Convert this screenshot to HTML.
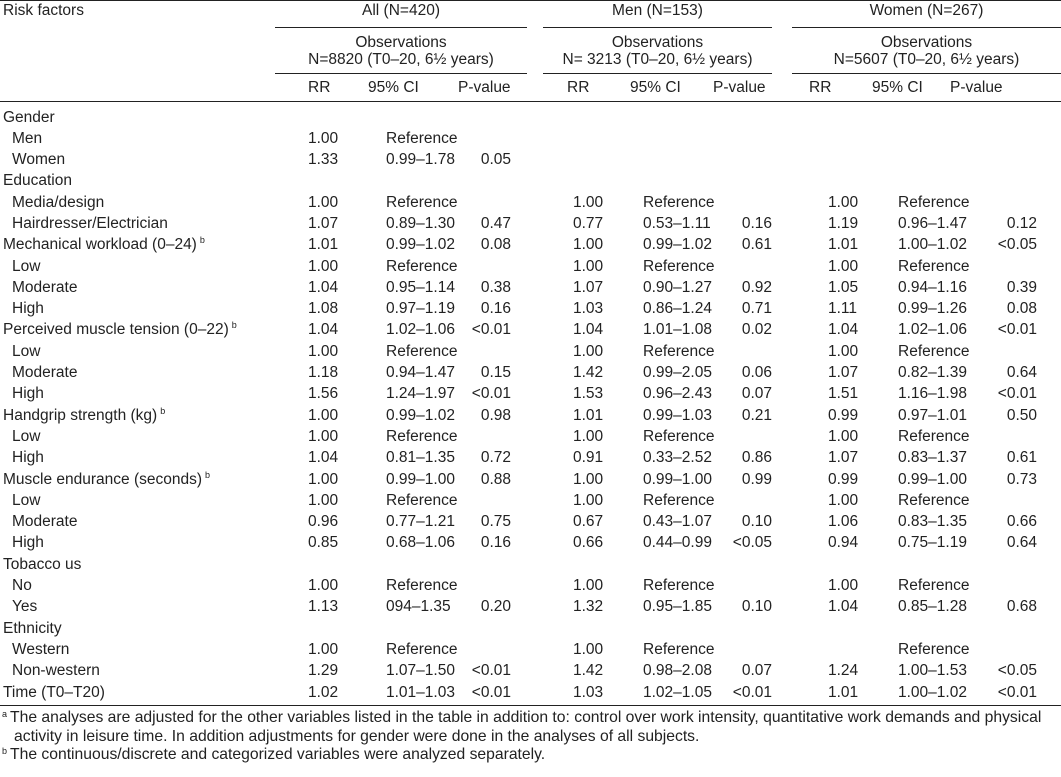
<!DOCTYPE html>
<html><head><meta charset="utf-8"><style>
*{margin:0;padding:0;box-sizing:border-box}
body{width:1061px;height:777px;background:#fff;color:#222;font-family:"Liberation Sans",Arial,sans-serif;font-size:15.5px;position:relative;overflow:hidden}
.ab{position:absolute;white-space:nowrap}
.ln{position:absolute;height:1.3px;background:#222}
.rows{position:absolute;top:106.5px;left:0;width:1061px}
.r{position:relative;height:21.3px;line-height:21.3px;white-space:nowrap}
.r span{position:absolute;top:0}
.l{left:3px}.i{left:12px}
.a1{left:308px}.a2{left:386px}.a3{right:550px}
.m1{left:573px}.m2{left:643px}.m3{right:289px}
.w1{left:828px}.w2{left:898px}.w3{right:24px}
sup{font-size:9px;line-height:0;position:relative;top:-6px;vertical-align:baseline;margin-left:3px}
.c{text-align:center;line-height:17px}
.fn{position:absolute;left:2px;font-size:15.7px;white-space:nowrap;line-height:18.5px}
.fn sup{margin:0 3px 0 0;top:-5px}
</style></head><body>
<div class="ln" style="top:0;left:0;width:1061px"></div>
<div class="ab" style="left:3px;top:1px;line-height:19px">Risk factors</div>
<div class="ab c" style="left:275px;width:252px;top:2px">All (N=420)</div>
<div class="ab c" style="left:543px;width:229px;top:2px">Men (N=153)</div>
<div class="ab c" style="left:792px;width:269px;top:2px">Women (N=267)</div>
<div class="ln" style="top:26.5px;left:275px;width:252px"></div>
<div class="ln" style="top:26.5px;left:543px;width:229px"></div>
<div class="ln" style="top:26.5px;left:792px;width:269px"></div>
<div class="ab c" style="left:275px;width:252px;top:34px">Observations<br>N=8820 (T0–20, 6½ years)</div>
<div class="ab c" style="left:543px;width:229px;top:34px">Observations<br>N= 3213 (T0–20, 6½ years)</div>
<div class="ab c" style="left:792px;width:269px;top:34px">Observations<br>N=5607 (T0–20, 6½ years)</div>
<div class="ln" style="top:72.5px;left:275px;width:252px"></div>
<div class="ln" style="top:72.5px;left:543px;width:229px"></div>
<div class="ln" style="top:72.5px;left:792px;width:269px"></div>
<div class="ab" style="top:79px;left:308px">RR</div><div class="ab" style="top:79px;left:368px">95% CI</div><div class="ab" style="top:79px;left:458px">P-value</div>
<div class="ab" style="top:79px;left:567px">RR</div><div class="ab" style="top:79px;left:630px">95% CI</div><div class="ab" style="top:79px;left:713px">P-value</div>
<div class="ab" style="top:79px;left:809px">RR</div><div class="ab" style="top:79px;left:872px">95% CI</div><div class="ab" style="top:79px;left:950px">P-value</div>
<div class="ln" style="top:100.5px;left:0;width:1061px"></div>
<div class="rows">
<div class="r"><span class="l">Gender</span></div>
<div class="r"><span class="i">Men</span><span class="a1">1.00</span><span class="a2">Reference</span></div>
<div class="r"><span class="i">Women</span><span class="a1">1.33</span><span class="a2">0.99–1.78</span><span class="a3">0.05</span></div>
<div class="r"><span class="l">Education</span></div>
<div class="r"><span class="i">Media/design</span><span class="a1">1.00</span><span class="a2">Reference</span><span class="m1">1.00</span><span class="m2">Reference</span><span class="w1">1.00</span><span class="w2">Reference</span></div>
<div class="r"><span class="i">Hairdresser/Electrician</span><span class="a1">1.07</span><span class="a2">0.89–1.30</span><span class="a3">0.47</span><span class="m1">0.77</span><span class="m2">0.53–1.11</span><span class="m3">0.16</span><span class="w1">1.19</span><span class="w2">0.96–1.47</span><span class="w3">0.12</span></div>
<div class="r"><span class="l">Mechanical workload (0–24)<sup>b</sup></span><span class="a1">1.01</span><span class="a2">0.99–1.02</span><span class="a3">0.08</span><span class="m1">1.00</span><span class="m2">0.99–1.02</span><span class="m3">0.61</span><span class="w1">1.01</span><span class="w2">1.00–1.02</span><span class="w3">&lt;0.05</span></div>
<div class="r"><span class="i">Low</span><span class="a1">1.00</span><span class="a2">Reference</span><span class="m1">1.00</span><span class="m2">Reference</span><span class="w1">1.00</span><span class="w2">Reference</span></div>
<div class="r"><span class="i">Moderate</span><span class="a1">1.04</span><span class="a2">0.95–1.14</span><span class="a3">0.38</span><span class="m1">1.07</span><span class="m2">0.90–1.27</span><span class="m3">0.92</span><span class="w1">1.05</span><span class="w2">0.94–1.16</span><span class="w3">0.39</span></div>
<div class="r"><span class="i">High</span><span class="a1">1.08</span><span class="a2">0.97–1.19</span><span class="a3">0.16</span><span class="m1">1.03</span><span class="m2">0.86–1.24</span><span class="m3">0.71</span><span class="w1">1.11</span><span class="w2">0.99–1.26</span><span class="w3">0.08</span></div>
<div class="r"><span class="l">Perceived muscle tension (0–22)<sup>b</sup></span><span class="a1">1.04</span><span class="a2">1.02–1.06</span><span class="a3">&lt;0.01</span><span class="m1">1.04</span><span class="m2">1.01–1.08</span><span class="m3">0.02</span><span class="w1">1.04</span><span class="w2">1.02–1.06</span><span class="w3">&lt;0.01</span></div>
<div class="r"><span class="i">Low</span><span class="a1">1.00</span><span class="a2">Reference</span><span class="m1">1.00</span><span class="m2">Reference</span><span class="w1">1.00</span><span class="w2">Reference</span></div>
<div class="r"><span class="i">Moderate</span><span class="a1">1.18</span><span class="a2">0.94–1.47</span><span class="a3">0.15</span><span class="m1">1.42</span><span class="m2">0.99–2.05</span><span class="m3">0.06</span><span class="w1">1.07</span><span class="w2">0.82–1.39</span><span class="w3">0.64</span></div>
<div class="r"><span class="i">High</span><span class="a1">1.56</span><span class="a2">1.24–1.97</span><span class="a3">&lt;0.01</span><span class="m1">1.53</span><span class="m2">0.96–2.43</span><span class="m3">0.07</span><span class="w1">1.51</span><span class="w2">1.16–1.98</span><span class="w3">&lt;0.01</span></div>
<div class="r"><span class="l">Handgrip strength (kg)<sup>b</sup></span><span class="a1">1.00</span><span class="a2">0.99–1.02</span><span class="a3">0.98</span><span class="m1">1.01</span><span class="m2">0.99–1.03</span><span class="m3">0.21</span><span class="w1">0.99</span><span class="w2">0.97–1.01</span><span class="w3">0.50</span></div>
<div class="r"><span class="i">Low</span><span class="a1">1.00</span><span class="a2">Reference</span><span class="m1">1.00</span><span class="m2">Reference</span><span class="w1">1.00</span><span class="w2">Reference</span></div>
<div class="r"><span class="i">High</span><span class="a1">1.04</span><span class="a2">0.81–1.35</span><span class="a3">0.72</span><span class="m1">0.91</span><span class="m2">0.33–2.52</span><span class="m3">0.86</span><span class="w1">1.07</span><span class="w2">0.83–1.37</span><span class="w3">0.61</span></div>
<div class="r"><span class="l">Muscle endurance (seconds)<sup>b</sup></span><span class="a1">1.00</span><span class="a2">0.99–1.00</span><span class="a3">0.88</span><span class="m1">1.00</span><span class="m2">0.99–1.00</span><span class="m3">0.99</span><span class="w1">0.99</span><span class="w2">0.99–1.00</span><span class="w3">0.73</span></div>
<div class="r"><span class="i">Low</span><span class="a1">1.00</span><span class="a2">Reference</span><span class="m1">1.00</span><span class="m2">Reference</span><span class="w1">1.00</span><span class="w2">Reference</span></div>
<div class="r"><span class="i">Moderate</span><span class="a1">0.96</span><span class="a2">0.77–1.21</span><span class="a3">0.75</span><span class="m1">0.67</span><span class="m2">0.43–1.07</span><span class="m3">0.10</span><span class="w1">1.06</span><span class="w2">0.83–1.35</span><span class="w3">0.66</span></div>
<div class="r"><span class="i">High</span><span class="a1">0.85</span><span class="a2">0.68–1.06</span><span class="a3">0.16</span><span class="m1">0.66</span><span class="m2">0.44–0.99</span><span class="m3">&lt;0.05</span><span class="w1">0.94</span><span class="w2">0.75–1.19</span><span class="w3">0.64</span></div>
<div class="r"><span class="l">Tobacco us</span></div>
<div class="r"><span class="i">No</span><span class="a1">1.00</span><span class="a2">Reference</span><span class="m1">1.00</span><span class="m2">Reference</span><span class="w1">1.00</span><span class="w2">Reference</span></div>
<div class="r"><span class="i">Yes</span><span class="a1">1.13</span><span class="a2">094–1.35</span><span class="a3">0.20</span><span class="m1">1.32</span><span class="m2">0.95–1.85</span><span class="m3">0.10</span><span class="w1">1.04</span><span class="w2">0.85–1.28</span><span class="w3">0.68</span></div>
<div class="r"><span class="l">Ethnicity</span></div>
<div class="r"><span class="i">Western</span><span class="a1">1.00</span><span class="a2">Reference</span><span class="m1">1.00</span><span class="m2">Reference</span><span class="w2">Reference</span></div>
<div class="r"><span class="i">Non-western</span><span class="a1">1.29</span><span class="a2">1.07–1.50</span><span class="a3">&lt;0.01</span><span class="m1">1.42</span><span class="m2">0.98–2.08</span><span class="m3">0.07</span><span class="w1">1.24</span><span class="w2">1.00–1.53</span><span class="w3">&lt;0.05</span></div>
<div class="r"><span class="l">Time (T0–T20)</span><span class="a1">1.02</span><span class="a2">1.01–1.03</span><span class="a3">&lt;0.01</span><span class="m1">1.03</span><span class="m2">1.02–1.05</span><span class="m3">&lt;0.01</span><span class="w1">1.01</span><span class="w2">1.00–1.02</span><span class="w3">&lt;0.01</span></div>
</div>
<div class="ln" style="top:704.5px;left:0;width:1061px"></div>
<div class="fn" style="top:709px"><sup>a</sup>The analyses are adjusted for the other variables listed in the table in addition to: control over work intensity, quantitative work demands and physical</div>
<div class="fn" style="top:727.5px;left:14px">activity in leisure time. In addition adjustments for gender were done in the analyses of all subjects.</div>
<div class="fn" style="top:746px"><sup>b</sup>The continuous/discrete and categorized variables were analyzed separately.</div>
</body></html>
